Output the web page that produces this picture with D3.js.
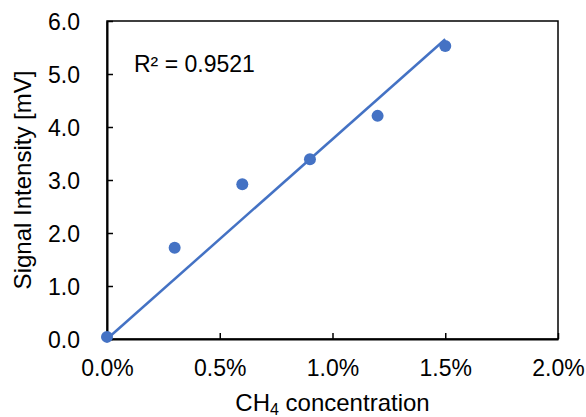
<!DOCTYPE html>
<html>
<head>
<meta charset="utf-8">
<script src="https://cdn.jsdelivr.net/npm/d3@7"></script>
<style>
  body { margin: 0; background: #fff; }
  text { font-family: "Liberation Sans", Arial, sans-serif; fill: #000; }
</style>
</head>
<body>
<script>
// data
var conc = [0, 0.3, 0.6, 0.9, 1.2, 1.5];          // CH4 concentration, %
var signal = [0.04, 1.72, 2.92, 3.39, 4.21, 5.53]; // signal intensity, mV
var xTicks = [0, 0.5, 1.0, 1.5, 2.0];
var yTicks = [0, 1, 2, 3, 4, 5, 6];
var r2Label = "R² = 0.9521";

var width = 586, height = 417;
// plot area edges (note: "top" is reserved on window, so use pTop etc.)
var pLeft = 107, pRight = 558, pTop = 21, pBottom = 339;
var blue = "#4472C4";

var svg = d3.select("body").append("svg")
    .attr("width", width)
    .attr("height", height);

var x = d3.scaleLinear().domain([0, 2]).range([pLeft, pRight]);
var y = d3.scaleLinear().domain([0, 6]).range([pBottom, pTop]);

// plot frame (top/right)
svg.append("rect")
    .attr("x", pLeft).attr("y", pTop)
    .attr("width", pRight - pLeft).attr("height", pBottom - pTop)
    .attr("fill", "none")
    .attr("stroke", "#000")
    .attr("stroke-width", 1.5);

// axes with inward ticks
var xAxis = svg.append("g")
    .attr("transform", "translate(0," + pBottom + ")")
    .call(d3.axisBottom(x).tickValues(xTicks).tickSizeInner(-6).tickSizeOuter(0)
        .tickFormat(function(d) { return d.toFixed(1) + "%"; }));
xAxis.select(".domain").attr("stroke-width", 2);
xAxis.selectAll(".tick line").attr("stroke-width", 1.5);
xAxis.selectAll(".tick text")
    .attr("y", 37).attr("dy", 0)
    .style("font-size", "23px")
    .style("font-family", "Liberation Sans, Arial, sans-serif");

var yAxis = svg.append("g")
    .attr("transform", "translate(" + pLeft + ",0)")
    .call(d3.axisLeft(y).tickValues(yTicks).tickSizeInner(-6).tickSizeOuter(0)
        .tickFormat(d3.format(".1f")));
yAxis.select(".domain").attr("stroke-width", 2);
yAxis.selectAll(".tick line").attr("stroke-width", 1.5);
yAxis.selectAll(".tick text")
    .attr("x", -27).attr("dy", "0.36em")
    .style("font-size", "23px")
    .style("font-family", "Liberation Sans, Arial, sans-serif");

// linear trendline through the origin (least squares)
var sxy = d3.sum(conc, function(c, i) { return c * signal[i]; });
var sxx = d3.sum(conc, function(c) { return c * c; });
var slope = sxy / sxx;
var xMax = d3.max(conc);

svg.append("line")
    .attr("x1", x(0)).attr("y1", y(0))
    .attr("x2", x(xMax)).attr("y2", y(slope * xMax))
    .attr("stroke", blue)
    .attr("stroke-width", 2.5);

// markers
svg.selectAll("circle.pt")
    .data(conc)
    .enter()
    .append("circle")
    .attr("class", "pt")
    .attr("cx", function(d) { return x(d); })
    .attr("cy", function(d, i) { return y(signal[i]); })
    .attr("r", 6)
    .attr("fill", blue);

// R squared label
svg.append("text")
    .attr("x", 134).attr("y", 72)
    .style("font-size", "23px")
    .text(r2Label);

// axis titles
var xt = svg.append("text")
    .attr("x", (pLeft + pRight) / 2).attr("y", 411)
    .attr("text-anchor", "middle")
    .style("font-size", "24px");
xt.append("tspan").text("CH");
xt.append("tspan").attr("dy", 4).style("font-size", "16px").text("4");
xt.append("tspan").attr("dy", -4).text(" concentration");

svg.append("text")
    .attr("transform", "translate(31," + ((pTop + pBottom) / 2) + ") rotate(-90)")
    .attr("text-anchor", "middle")
    .style("font-size", "24px")
    .text("Signal Intensity [mV]");
</script>
</body>
</html>
